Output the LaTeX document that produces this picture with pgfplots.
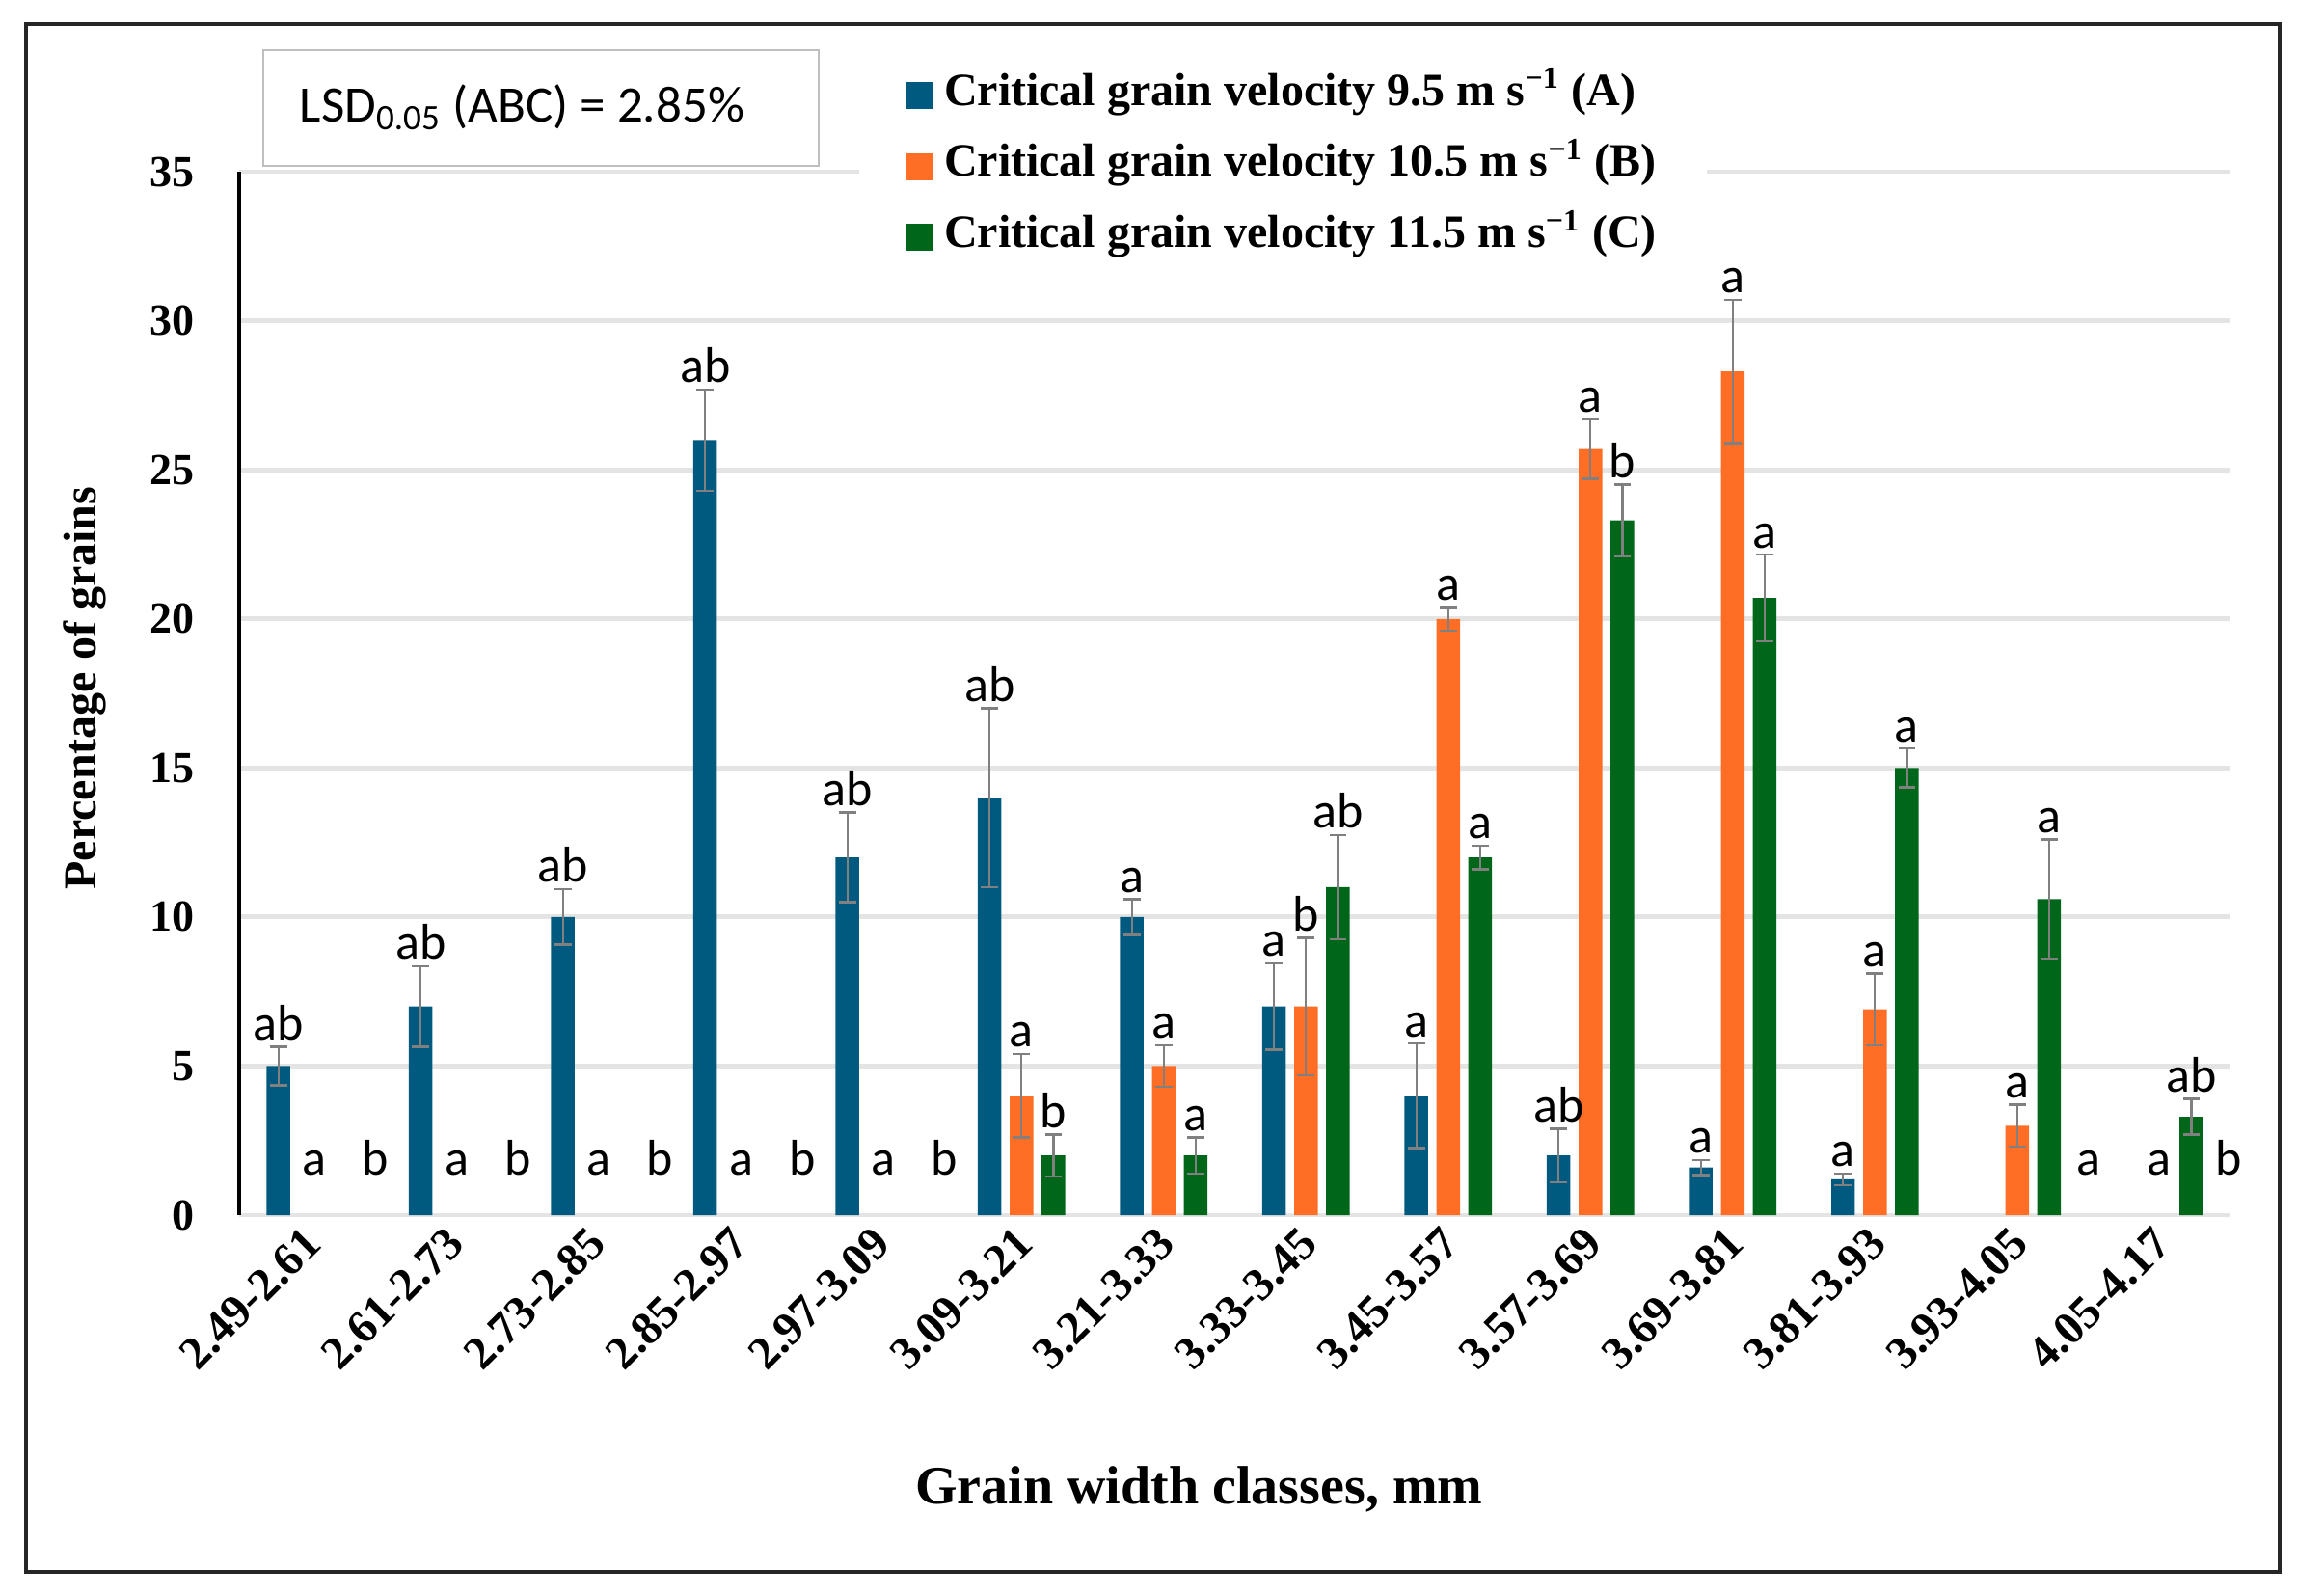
\documentclass[border=0pt]{standalone}
\usepackage{pgfplots}
\pgfplotsset{compat=1.18}
\usepackage{pgfplotstable}
\usepackage{fontspec}
\setmainfont{Liberation Serif}
\newfontfamily\lab{Carlito}
\definecolor{cA}{HTML}{005A80}
\definecolor{cB}{HTML}{FF6E24}
\definecolor{cC}{HTML}{00661A}
\definecolor{errgray}{HTML}{808080}
\definecolor{gridgray}{HTML}{E4E4E4}
\definecolor{boxgray}{HTML}{BFBFBF}
\tikzset{
  lbl/.style={font=\fontsize{13}{15}\selectfont\lab, anchor=south, inner sep=1.5pt},
  zl/.style={font=\fontsize{13}{15}\selectfont\lab, anchor=base, inner sep=0pt},
}
\pgfplotsset{
  ebar/.style={error bars/.cd, y dir=both, y explicit,
    error bar style={line width=0.6pt, errgray},
    error mark options={rotate=90, mark size=2.2pt, line width=0.6pt, errgray}},
}

\pgfplotstableread{
x y e
0 5 0.65
1 7 1.35
2 10 0.93
3 26 1.7
4 12 1.5
5 14 3.0
6 10 0.6
7 7 1.45
8 4 1.75
9 2 0.9
10 1.6 0.25
11 1.2 0.2
}\dataA
\pgfplotstableread{
x y e
5 4 1.4
6 5 0.7
7 7 2.3
8 20 0.4
9 25.7 1.0
10 28.3 2.4
11 6.9 1.2
12 3 0.7
}\dataB
\pgfplotstableread{
x y e
5 2 0.7
6 2 0.6
7 11 1.75
8 12 0.4
9 23.3 1.2
10 20.7 1.45
11 15 0.65
12 10.6 2.0
13 3.3 0.6
}\dataC

\begin{document}
\begin{tikzpicture}
\useasboundingbox (0,0) rectangle (595.75pt,-413.5pt);
\draw[line width=0.9pt, black!85] (6.75pt,-6.25pt) rectangle (591pt,-407.5pt);
\begin{axis}[
  at={(62pt,-315pt)}, anchor=south west,
  x=36.875pt, y=7.72857pt,
  xmin=-0.5, xmax=13.5, ymin=0, ymax=35,
  axis lines=left,
  x axis line style={draw=gridgray, line width=1.2pt, -},
  y axis line style={black, line width=0.9pt, -},
  ymajorgrids, grid style={gridgray, line width=1.2pt},
  major tick length=0pt,
  ytick={0,5,...,35},
  xtick={0,...,13},
  xticklabels={2.49-2.61,2.61-2.73,2.73-2.85,2.85-2.97,2.97-3.09,3.09-3.21,3.21-3.33,3.33-3.45,3.45-3.57,3.57-3.69,3.69-3.81,3.81-3.93,3.93-4.05,4.05-4.17},
  yticklabel style={font=\fontsize{11.5}{13}\selectfont\bfseries},
  /pgf/number format/assume math mode=true,
  yticklabel shift=8pt,
  xticklabel style={font=\fontsize{12}{14}\selectfont\bfseries, rotate=45, anchor=east, xshift=4.5pt},
  xticklabel shift=6pt,
  xlabel={Grain width classes, mm},
  xlabel style={at={(axis description cs:0.482,-0.2625)}, anchor=center, font=\fontsize{14}{16}\selectfont\bfseries},
  ylabel={Percentage of grains},
  ylabel style={at={(axis description cs:-0.0775,0.505)}, anchor=center, font=\fontsize{12}{14}\selectfont\bfseries},
  legend image code/.code={\fill[#1] (0pt,-3.5pt) rectangle (7pt,3.5pt); \path (9pt,0pt);},
  legend style={at={(axis description cs:0.311,1.102)}, anchor=north west, fill=white, draw=none,
    font=\fontsize{12}{14}\selectfont\bfseries, row sep=7pt, inner xsep=12pt, inner ysep=2pt,
    nodes={inner sep=1pt, anchor=west, text height=0.72em, text depth=0.22em}},
  legend cell align=left,
  clip=false,
]
\addplot[ybar, bar width=0.166, bar shift=0, fill=cA, draw=none, ebar]
  table[x expr=\thisrow{x}-0.224, y=y, y error=e]{\dataA};
\addplot[ybar, bar width=0.166, bar shift=0, fill=cB, draw=none, ebar]
  table[x=x, y=y, y error=e]{\dataB};
\addplot[ybar, bar width=0.166, bar shift=0, fill=cC, draw=none, ebar]
  table[x expr=\thisrow{x}+0.224, y=y, y error=e]{\dataC};
\legend{Critical grain velocity 9.5 m s\textsuperscript{−1} (A),
        Critical grain velocity 10.5 m s\textsuperscript{−1} (B),
        Critical grain velocity 11.5 m s\textsuperscript{−1} (C)}

% letters above series A
\node[lbl] at (axis cs:-0.224,5.65) {ab};
\node[lbl] at (axis cs:0.776,8.35) {ab};
\node[lbl] at (axis cs:1.776,10.93) {ab};
\node[lbl] at (axis cs:2.776,27.7) {ab};
\node[lbl] at (axis cs:3.776,13.5) {ab};
\node[lbl] at (axis cs:4.776,17.0) {ab};
\node[lbl] at (axis cs:5.776,10.6) {a};
\node[lbl] at (axis cs:6.776,8.45) {a};
\node[lbl] at (axis cs:7.776,5.75) {a};
\node[lbl] at (axis cs:8.776,2.9) {ab};
\node[lbl] at (axis cs:9.776,1.85) {a};
\node[lbl] at (axis cs:10.776,1.4) {a};
% letters above series B
\node[lbl] at (axis cs:5,5.4) {a};
\node[lbl] at (axis cs:6,5.7) {a};
\node[lbl] at (axis cs:7,9.3) {b};
\node[lbl] at (axis cs:8,20.4) {a};
\node[lbl] at (axis cs:9,26.7) {a};
\node[lbl] at (axis cs:10,30.7) {a};
\node[lbl] at (axis cs:11,8.1) {a};
\node[lbl] at (axis cs:12,3.7) {a};
% letters above series C
\node[lbl] at (axis cs:5.224,2.7) {b};
\node[lbl] at (axis cs:6.224,2.6) {a};
\node[lbl] at (axis cs:7.224,12.75) {ab};
\node[lbl] at (axis cs:8.224,12.4) {a};
\node[lbl] at (axis cs:9.224,24.5) {b};
\node[lbl] at (axis cs:10.224,22.15) {a};
\node[lbl] at (axis cs:11.224,15.65) {a};
\node[lbl] at (axis cs:12.224,12.6) {a};
\node[lbl] at (axis cs:13.224,3.9) {ab};
% letters for empty bars
\node[zl] at (axis cs:0.03,1.35) {a};
\node[zl] at (axis cs:0.46,1.35) {b};
\node[zl] at (axis cs:1.03,1.35) {a};
\node[zl] at (axis cs:1.46,1.35) {b};
\node[zl] at (axis cs:2.03,1.35) {a};
\node[zl] at (axis cs:2.46,1.35) {b};
\node[zl] at (axis cs:3.03,1.35) {a};
\node[zl] at (axis cs:3.46,1.35) {b};
\node[zl] at (axis cs:4.03,1.35) {a};
\node[zl] at (axis cs:4.46,1.35) {b};
\node[zl] at (axis cs:12.5,1.35) {a};
\node[zl] at (axis cs:13.0,1.35) {a};
\node[zl] at (axis cs:13.49,1.35) {b};
\end{axis}
\draw[boxgray, line width=0.6pt, fill=white] (68.25pt,-13pt) rectangle (212.25pt,-43pt);
\node[anchor=base west, inner sep=0pt, font=\fontsize{13.25}{15}\selectfont\lab] at (77.5pt,-31.5pt) {LSD\textsubscript{0.05} (ABC) = 2.85\%};
\end{tikzpicture}
\end{document}
